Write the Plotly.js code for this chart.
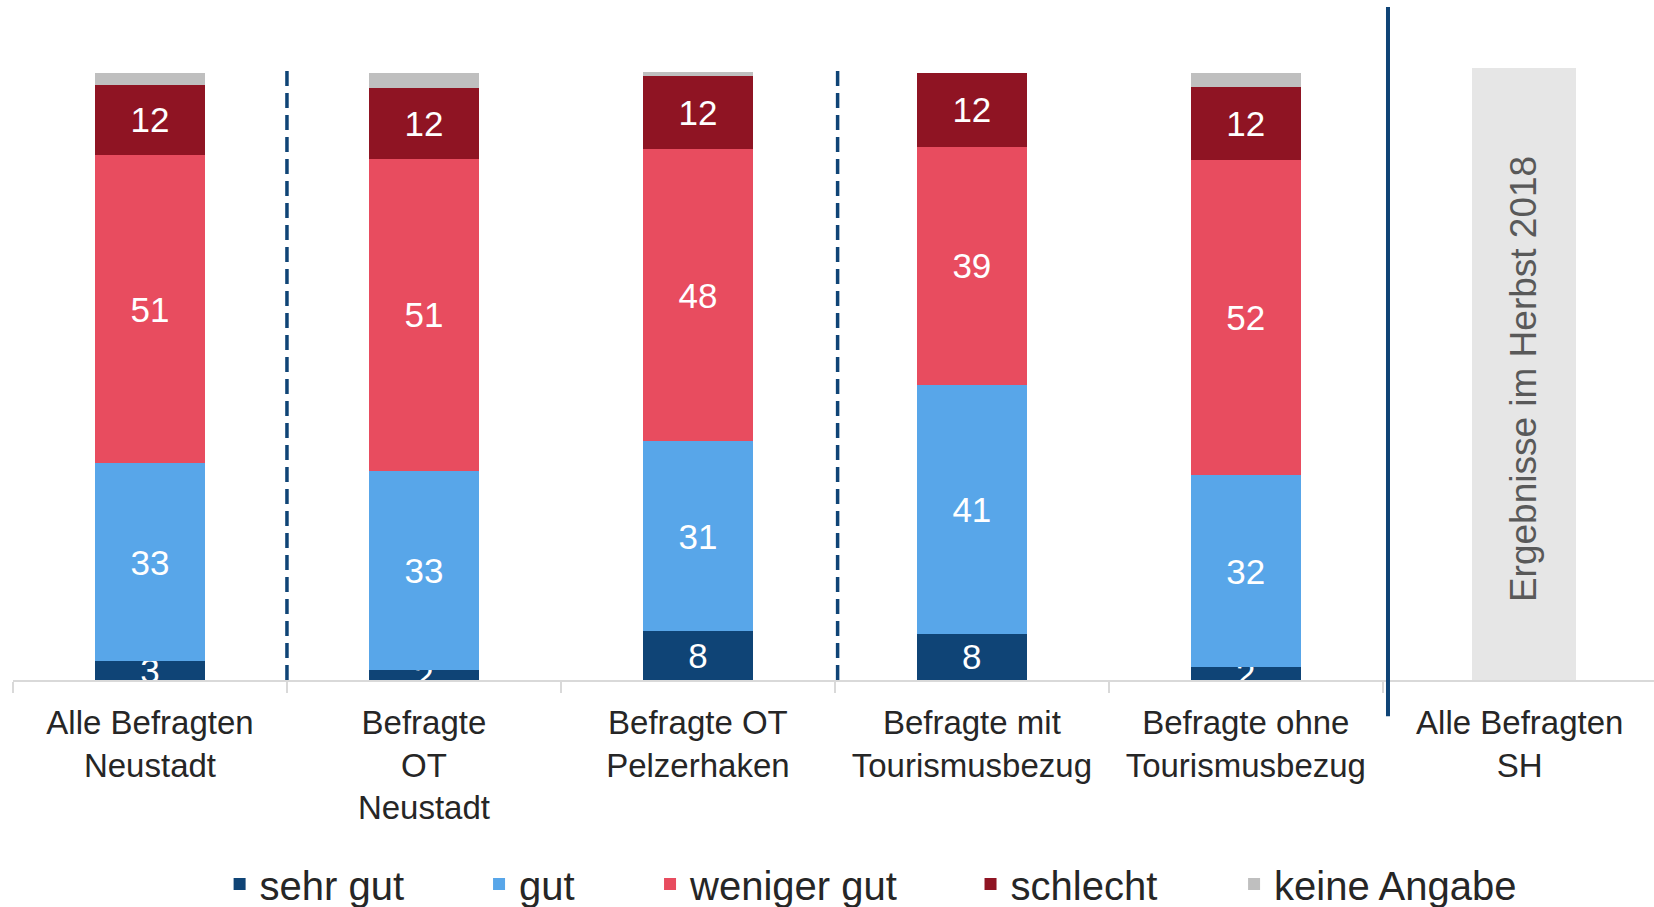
<!DOCTYPE html>
<html>
<head>
<meta charset="utf-8">
<script src="https://cdn.plot.ly/plotly-3.0.1.min.js"></script>
<style>html,body{margin:0;padding:0;background:#fff;}#chart{width:1654px;height:907px;}</style>
</head>
<body>
<div id="chart"></div>
<script>
const categories = ["Alle Befragten<br>Neustadt", "Befragte<br>OT<br>Neustadt", "Befragte OT<br>Pelzerhaken", "Befragte mit<br>Tourismusbezug", "Befragte ohne<br>Tourismusbezug", "Alle Befragten<br>SH"];
const barCategories = categories.slice(0, 5);
const sehrGut = [3.1, 1.6, 8.0, 7.6, 2.1];
const gut = [32.6, 32.8, 31.3, 41.0, 31.6];
const wenigerGut = [50.7, 51.4, 48.1, 39.2, 51.9];
const schlecht = [11.6, 11.6, 12.0, 12.2, 12.0];
const keineAngabe = [1.9, 2.6, 0.7, 0, 2.4];
const shCategory = [categories[5]];
const shPlaceholder = [100.7];
const shNote = "Ergebnisse im Herbst 2018";
const seriesNames = ["sehr gut", "gut", "weniger gut", "schlecht", "keine Angabe"];
const seriesColors = ["#0f4476", "#58a6e9", "#e84c5f", "#8f1423", "#bfbfbf"];
const seriesValues = [sehrGut, gut, wenigerGut, schlecht, keineAngabe];
const legendX = [0.1259, 0.2840, 0.3882, 0.5835, 0.7441];

const traces = seriesValues.map((vals, i) => ({
  type: "bar",
  name: seriesNames[i],
  x: barCategories,
  y: vals,
  width: 0.4,
  marker: {color: seriesColors[i], line: {width: 0}},
  text: i < 4 ? vals.map(v => v.toFixed(0)) : undefined,
  texttemplate: i < 4 ? "%{text}" : undefined,
  textposition: i < 4 ? "inside" : "none",
  insidetextanchor: "middle",
  textangle: 0,
  constraintext: "none",
  insidetextfont: {color: "#ffffff", size: 35, family: "Liberation Sans, Arial, sans-serif"},
  hoverinfo: "name+y",
  legend: i === 0 ? "legend" : "legend" + (i + 1)
}));

traces.push({
  type: "bar",
  x: shCategory,
  y: shPlaceholder,
  width: 0.38,
  offset: -0.175,
  marker: {color: "#e6e6e6", line: {width: 0}},
  showlegend: false,
  hoverinfo: "skip",
  textposition: "none"
});

const font = {family: "Liberation Sans, Arial, sans-serif", color: "#262626"};
const legendBase = {orientation: "h", xanchor: "left", yanchor: "middle", yref: "container", y: 0.0254, bgcolor: "rgba(0,0,0,0)", font: Object.assign({}, font, {size: 40}), itemclick: false, itemdoubleclick: false};
const layout = {
  width: 1654, height: 907,
  margin: {l: 13, r: 0, t: 7, b: 227, autoexpand: false},
  paper_bgcolor: "#ffffff", plot_bgcolor: "#ffffff",
  barmode: "stack",
  font: font,
  uniformtext: {mode: "show", minsize: 35},
  xaxis: {
    type: "category", categoryorder: "array", categoryarray: categories,
    range: [-0.5, 5.49],
    showline: true, linecolor: "#d9d9d9", linewidth: 2,
    ticks: "outside", tickson: "boundaries", ticklen: 11, tickcolor: "#d9d9d9", tickwidth: 1.5,
    ticklabelstandoff: 12,
    tickfont: Object.assign({}, font, {size: 33}),
    showgrid: false, zeroline: false, fixedrange: true, automargin: false
  },
  yaxis: {range: [0, 110.8], visible: false, showgrid: false, zeroline: false, fixedrange: true},
  showlegend: true,
  legend: Object.assign({}, legendBase, {x: legendX[0]}),
  legend2: Object.assign({}, legendBase, {x: legendX[1]}),
  legend3: Object.assign({}, legendBase, {x: legendX[2]}),
  legend4: Object.assign({}, legendBase, {x: legendX[3]}),
  legend5: Object.assign({}, legendBase, {x: legendX[4]}),
  shapes: [
    {type: "line", xref: "x", yref: "y", x0: 0.5, x1: 0.5, y0: 0, y1: 100.6, line: {color: "#0f4476", width: 3.5, dash: "15px,7px"}},
    {type: "line", xref: "x", yref: "y", x0: 2.51, x1: 2.51, y0: 0, y1: 100.6, line: {color: "#0f4476", width: 3.5, dash: "15px,7px"}},
    {type: "line", xref: "paper", yref: "paper", x0: 0.8379, x1: 0.8379, y0: -0.054, y1: 1, line: {color: "#0f4476", width: 4}}
  ],
  annotations: [
    {xref: "x", yref: "y", x: 5, y: 49.5, xshift: 4, text: shNote, textangle: -90, showarrow: false, font: Object.assign({}, font, {size: 37, color: "#595959"})}
  ]
};

Plotly.newPlot("chart", traces, layout, {displayModeBar: false, staticPlot: true});
</script>
</body>
</html>
